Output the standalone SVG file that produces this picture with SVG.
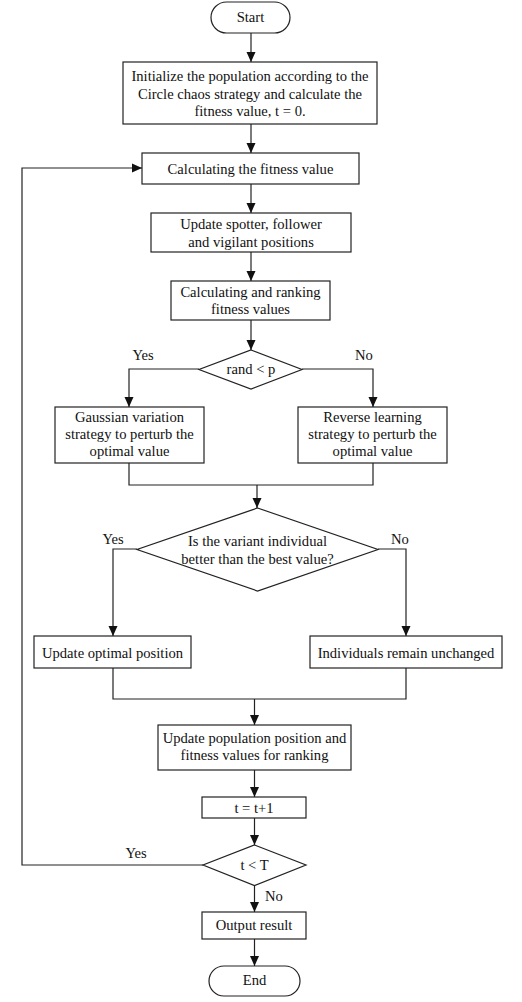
<svg xmlns="http://www.w3.org/2000/svg" width="522" height="1002" viewBox="0 0 522 1002">
  <style>
    .shape { fill: #ffffff; stroke: #222222; stroke-width: 1.2; }
    .line { fill: none; stroke: #222222; stroke-width: 1.2; }
    .arrow { fill: none; stroke: #222222; stroke-width: 1.2; marker-end: url(#head); }
    text { font-size: 14.6px; fill: #111111; text-anchor: middle; }
  </style>
  <defs>
    <marker id="head" viewBox="0 0 10 10" refX="10" refY="5" markerWidth="10" markerHeight="10" markerUnits="userSpaceOnUse" orient="auto">
      <path d="M0,0.5 L10,5 L0,9.5 Z" fill="#111111"/>
    </marker>
  </defs>
  <rect width="522" height="1002" fill="#ffffff"/>

  <g font-family="Liberation Serif, Times New Roman, DejaVu Serif, serif">
  <!-- connectors -->
  <g id="connectors">
    <line class="arrow" x1="251" y1="33" x2="251" y2="62"/>
    <line class="arrow" x1="251" y1="124" x2="251" y2="153"/>
    <line class="arrow" x1="251" y1="184" x2="251" y2="213"/>
    <line class="arrow" x1="251" y1="252" x2="251" y2="281"/>
    <line class="arrow" x1="251" y1="320" x2="251" y2="350"/>
    <polyline class="arrow" points="199,369 129,369 129,407"/>
    <polyline class="arrow" points="302,369 373,369 373,407"/>
    <polyline class="line" points="129,463 129,485 373,485 373,463"/>
    <line class="arrow" x1="257" y1="485" x2="257" y2="508"/>
    <polyline class="arrow" points="137,549 113,549 113,636"/>
    <polyline class="arrow" points="378,549 406,549 406,636"/>
    <polyline class="line" points="113,668 113,699 406,699 406,668"/>
    <line class="arrow" x1="254.5" y1="699" x2="254.5" y2="725"/>
    <line class="arrow" x1="254.5" y1="770" x2="254.5" y2="797"/>
    <line class="arrow" x1="254.5" y1="818" x2="254.5" y2="845"/>
    <line class="arrow" x1="254.5" y1="885" x2="254.5" y2="912"/>
    <line class="arrow" x1="254.5" y1="939" x2="254.5" y2="966"/>
    <polyline class="arrow" points="203,865 22,865 22,168 142,168"/>
    <text x="143" y="360">Yes</text>
    <text x="364" y="360">No</text>
    <text x="113" y="544">Yes</text>
    <text x="400" y="544">No</text>
    <text x="136" y="858">Yes</text>
    <text x="274" y="901">No</text>
  </g>

  <g id="start">
    <rect class="shape" x="211" y="2" width="79" height="31" rx="15.5"/>
    <text x="250.5" y="22">Start</text>
  </g>

  <g id="init">
    <rect class="shape" x="123" y="62" width="254" height="62"/>
    <text x="250" y="81">Initialize the population according to the</text>
    <text x="250" y="98.5">Circle chaos strategy and calculate the</text>
    <text x="250" y="116">fitness value, t = 0.</text>
  </g>

  <g id="calc-fitness">
    <rect class="shape" x="142" y="153" width="217" height="31"/>
    <text x="250.5" y="173.5">Calculating the fitness value</text>
  </g>

  <g id="update-positions">
    <rect class="shape" x="151" y="213" width="200" height="39"/>
    <text x="251" y="229">Update spotter, follower</text>
    <text x="251" y="246.5">and vigilant positions</text>
  </g>

  <g id="rank">
    <rect class="shape" x="171" y="281" width="159" height="39"/>
    <text x="250.5" y="296.5">Calculating and ranking</text>
    <text x="250.5" y="314">fitness values</text>
  </g>

  <g id="rand-decision">
    <polygon class="shape" points="251,350 302,369.5 251,389 199,369.5"/>
    <text x="251" y="374">rand &lt; p</text>
  </g>

  <g id="gaussian">
    <rect class="shape" x="55" y="407" width="149" height="56"/>
    <text x="129.5" y="421.5">Gaussian variation</text>
    <text x="129.5" y="439">strategy to perturb the</text>
    <text x="129.5" y="456">optimal value</text>
  </g>

  <g id="reverse">
    <rect class="shape" x="298" y="407" width="149" height="56"/>
    <text x="372.5" y="421.5">Reverse learning</text>
    <text x="372.5" y="439">strategy to perturb the</text>
    <text x="372.5" y="456">optimal value</text>
  </g>

  <g id="better-decision">
    <polygon class="shape" points="257.5,508 378,549.5 257.5,591 137,549.5"/>
    <text x="257.5" y="546">Is the variant individual</text>
    <text x="257.5" y="563.5">better than the best value?</text>
  </g>

  <g id="update-optimal">
    <rect class="shape" x="34" y="636" width="157" height="32"/>
    <text x="112.5" y="657.5">Update optimal position</text>
  </g>

  <g id="unchanged">
    <rect class="shape" x="310" y="636" width="192" height="32"/>
    <text x="406" y="657.5">Individuals remain unchanged</text>
  </g>

  <g id="update-population">
    <rect class="shape" x="158" y="725" width="193" height="45"/>
    <text x="254.5" y="743">Update population position and</text>
    <text x="254.5" y="760">fitness values for ranking</text>
  </g>

  <g id="increment">
    <rect class="shape" x="202" y="797" width="104" height="21"/>
    <text x="254" y="812.5">t = t+1</text>
  </g>

  <g id="iter-decision">
    <polygon class="shape" points="254.5,845 306,865 254.5,885.5 203,865"/>
    <text x="254.5" y="870">t &lt; T</text>
  </g>

  <g id="output">
    <rect class="shape" x="202" y="912" width="104" height="27"/>
    <text x="254" y="930">Output result</text>
  </g>

  <g id="end">
    <rect class="shape" x="209" y="966" width="91" height="30" rx="15"/>
    <text x="254.5" y="985">End</text>
  </g>
  </g>
</svg>
